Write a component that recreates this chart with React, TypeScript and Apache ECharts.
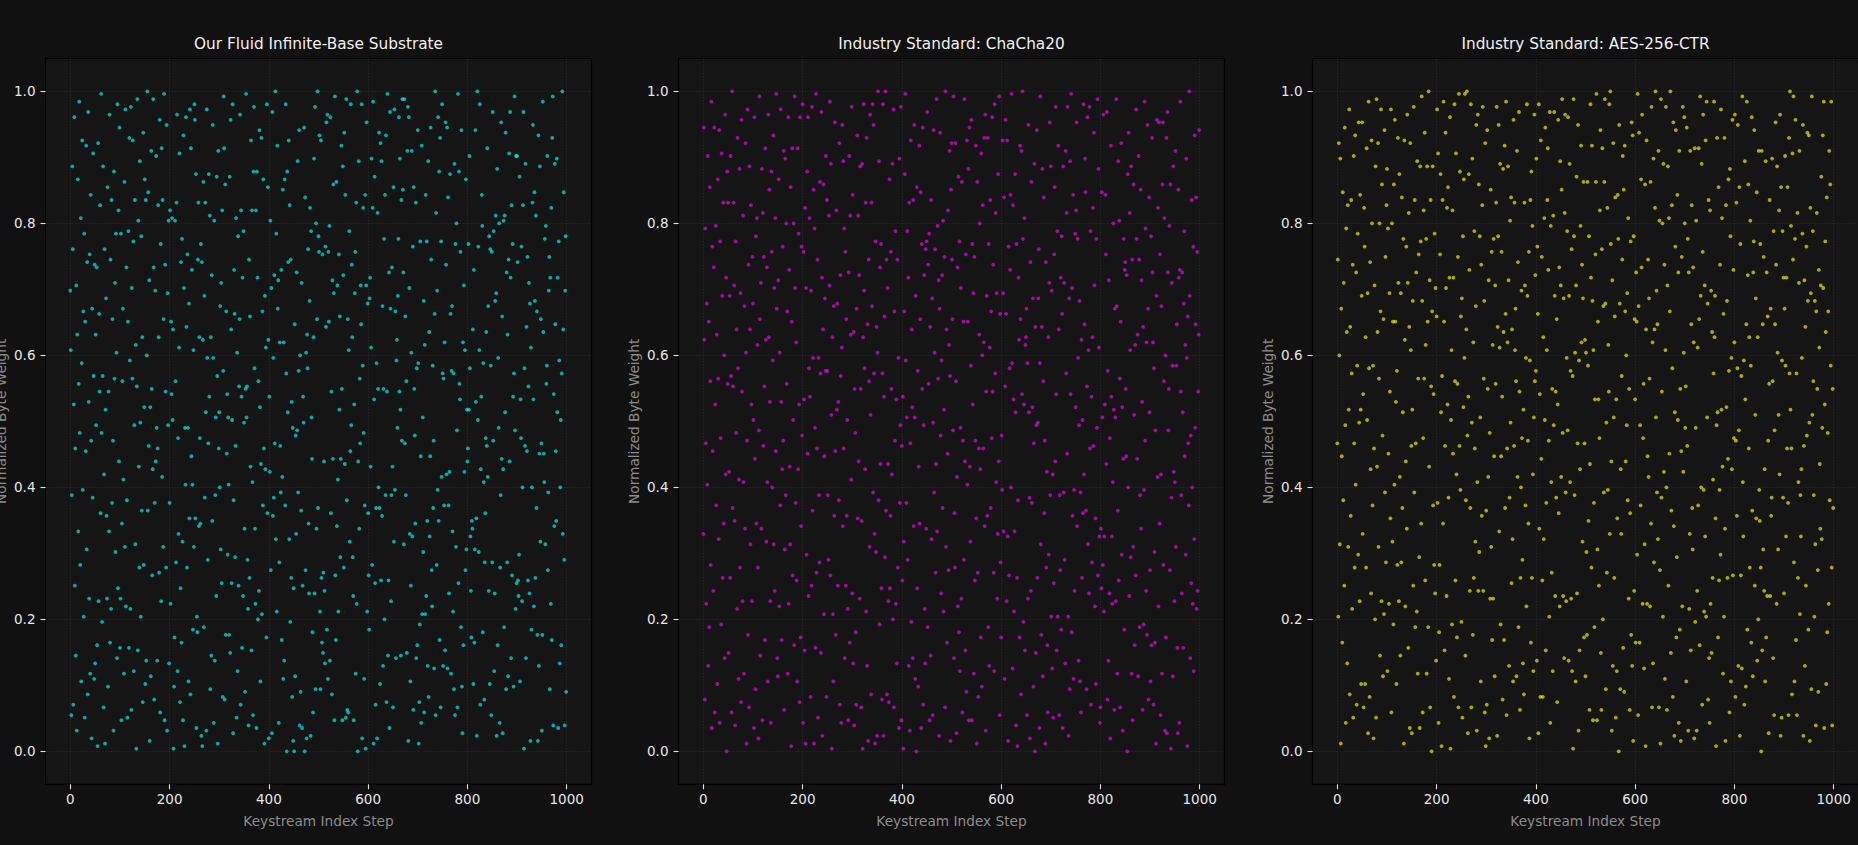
import React, { useEffect, useRef } from "react";
import * as echarts from "echarts";

const panelTitles = [
  "Our Fluid Infinite-Base Substrate",
  "Industry Standard: ChaCha20",
  "Industry Standard: AES-256-CTR",
];
const panelColors = ["rgba(0,255,255,0.8)", "rgba(255,0,255,0.8)", "rgba(255,255,0,0.8)"];
const xTickValues = [0, 200, 400, 600, 800, 1000];
const yTickValues = [0, 0.2, 0.4, 0.6, 0.8, 1.0];
const xAxisTitle = "Keystream Index Step";
const yAxisTitle = "Normalized Byte Weight";

// raw byte values (0-255) per keystream index
const fluidBytes = [
  178, 155, 14, 99, 226, 194, 18, 134, 245, 64, 117, 37, 180, 8, 161, 221, 85, 142, 251, 123, 72, 206, 27, 150, 236, 101, 170, 52, 200, 13, 166, 116, 234, 78, 189, 22, 247, 135, 59, 192, 30, 215, 120, 5, 171, 98, 231, 145, 28, 188,
  34, 161, 126, 187, 41, 2, 235, 58, 169, 139, 211, 92, 254, 123, 50, 145, 226, 17, 107, 194, 3, 132, 175, 91, 59, 218, 25, 139, 85, 246, 42, 190, 55, 213, 96, 167, 120, 8, 224, 144, 181, 77, 200, 154, 36, 250, 63, 209, 112, 241,
  40, 59, 200, 12, 88, 143, 171, 105, 30, 220, 79, 248, 56, 187, 97, 13, 166, 201, 40, 237, 151, 55, 249, 16, 179, 144, 236, 197, 31, 126, 213, 80, 157, 1, 141, 252, 39, 205, 110, 71, 228, 127, 52, 199, 93, 160, 19, 239, 72, 133,
  221, 26, 213, 35, 153, 255, 93, 216, 118, 182, 4, 133, 29, 232, 140, 68, 109, 252, 187, 20, 96, 178, 112, 230, 125, 35, 117, 211, 160, 69, 244, 15, 196, 58, 233, 106, 213, 79, 167, 254, 12, 188, 139, 71, 242, 8, 177, 126, 205, 34,
  96, 209, 57, 166, 138, 206, 128, 163, 1, 25, 44, 205, 143, 73, 212, 246, 31, 121, 84, 156, 231, 19, 63, 189, 42, 198, 81, 12, 238, 179, 2, 125, 103, 245, 164, 71, 192, 125, 27, 173, 90, 248, 22, 233, 114, 186, 103, 47, 155, 79,
  250, 244, 90, 223, 9, 52, 46, 190, 212, 87, 160, 121, 88, 196, 6, 189, 2, 159, 220, 48, 176, 98, 212, 131, 8, 248, 152, 74, 119, 223, 137, 207, 24, 160, 37, 184, 89, 242, 152, 11, 205, 35, 99, 129, 60, 222, 145, 3, 232, 117,
  131, 102, 172, 78, 181, 65, 209, 21, 147, 253, 233, 20, 219, 45, 170, 115, 138, 76, 129, 103, 45, 222, 38, 244, 163, 65, 128, 250, 7, 97, 186, 169, 75, 118, 206, 13, 154, 31, 199, 64, 141, 167, 246, 18, 209, 137, 40, 183, 60, 201,
  127, 86, 23, 140, 254, 129, 141, 74, 55, 10, 190, 67, 168, 110, 236, 39, 209, 104, 14, 224, 249, 148, 86, 57, 209, 9, 224, 183, 51, 143, 62, 240, 133, 27, 111, 237, 53, 170, 95, 221, 117, 3, 176, 109, 156, 44, 250, 92, 218, 159,
  5, 137, 108, 205, 70, 179, 7, 247, 91, 152, 98, 184, 119, 255, 82, 200, 54, 234, 171, 182, 11, 73, 158, 118, 100, 186, 43, 106, 217, 28, 158, 35, 221, 95, 250, 146, 0, 224, 131, 189, 236, 82, 211, 50, 190, 67, 135, 21, 125, 4,
  63, 0, 165, 29, 122, 84, 185, 124, 228, 100, 147, 240, 10, 153, 23, 93, 181, 9, 64, 137, 127, 241, 0, 214, 70, 154, 5, 161, 148, 194, 88, 61, 174, 210, 6, 201, 129, 113, 46, 15, 160, 229, 61, 249, 24, 204, 86, 167, 255, 94,
  199, 193, 238, 54, 24, 236, 67, 42, 192, 38, 69, 112, 62, 34, 195, 164, 243, 47, 246, 28, 193, 166, 203, 35, 245, 92, 139, 22, 182, 113, 219, 177, 12, 253, 68, 43, 220, 87, 180, 105, 54, 192, 132, 168, 75, 113, 234, 140, 12, 226,
  184, 71, 239, 111, 215, 13, 252, 97, 16, 167, 15, 155, 201, 81, 116, 250, 126, 188, 160, 75, 60, 12, 134, 177, 193, 30, 212, 57, 255, 0, 112, 228, 86, 144, 119, 180, 165, 250, 5, 149, 210, 123, 28, 95, 215, 1, 180, 243, 54, 173,
  92, 68, 47, 175, 183, 110, 156, 229, 72, 210, 251, 3, 136, 222, 65, 18, 94, 150, 5, 208, 140, 102, 239, 94, 26, 235, 66, 228, 91, 172, 33, 140, 198, 51, 215, 99, 238, 19, 139, 254, 37, 66, 185, 9, 247, 171, 58, 99, 187, 110,
  17, 218, 81, 248, 101, 170, 36, 151, 159, 125, 176, 198, 245, 139, 229, 132, 37, 213, 120, 252, 217, 185, 80, 252, 119, 168, 99, 143, 38, 232, 249, 4, 245, 179, 84, 27, 64, 154, 232, 83, 195, 16, 218, 140, 122, 88, 212, 36, 148, 41,
  240, 150, 3, 19, 49, 197, 114, 11, 234, 53, 129, 77, 174, 15, 157, 53, 215, 60, 197, 89, 33, 228, 21, 162, 83, 114, 241, 190, 70, 56, 149, 94, 120, 32, 169, 255, 14, 208, 72, 178, 101, 245, 89, 224, 43, 237, 17, 197, 106, 250,
  146, 33, 144, 95, 158, 39, 243, 188, 107, 241, 32, 214, 95, 61, 108, 223, 169, 30, 147, 172, 85, 54, 146, 24, 227, 14, 196, 79, 204, 124, 17, 254, 65, 224, 142, 136, 193, 48, 240, 25, 7, 158, 41, 180, 108, 155, 70, 221, 78, 132,
  112, 117, 196, 132, 230, 148, 83, 62, 44, 89, 86, 163, 26, 186, 42, 78, 240, 135, 90, 6, 255, 128, 195, 77, 155, 250, 18, 109, 137, 215, 203, 46, 150, 104, 20, 73, 92, 121, 162, 118, 233, 106, 172, 62, 199, 26, 194, 149, 14, 193,
  73, 247, 120, 201, 31, 61, 174, 207, 177, 6, 225, 41, 152, 125, 204, 11, 71, 99, 243, 113, 168, 7, 109, 205, 48, 207, 131, 239, 24, 185, 73, 161, 29, 190, 231, 112, 247, 183, 36, 211, 68, 196, 137, 25, 146, 253, 124, 55, 230, 65,
  230, 189, 66, 60, 76, 222, 27, 136, 121, 195, 58, 102, 211, 247, 1, 148, 118, 227, 36, 164, 116, 191, 66, 141, 181, 61, 173, 4, 156, 47, 102, 212, 242, 136, 56, 216, 174, 67, 207, 94, 170, 45, 4, 238, 33, 115, 226, 81, 167, 119,
  8, 45, 251, 162, 115, 104, 198, 80, 203, 142, 149, 230, 70, 100, 178, 191, 24, 183, 57, 210, 43, 237, 253, 10, 138, 87, 227, 165, 116, 89, 229, 131, 183, 9, 197, 151, 34, 102, 128, 41, 146, 255, 84, 163, 216, 74, 10, 178, 199, 23,
];

const chachaBytes = [
  84, 241, 159, 20, 202, 119, 57, 173, 103, 230, 33, 166, 48, 218, 143, 72, 251, 9, 195, 116, 62, 187, 241, 15, 134, 203, 95, 161, 26, 221, 144, 82, 240, 11, 197, 121, 49, 231, 176, 67, 212, 88, 153, 36, 246, 107, 183, 0, 224, 142,
  212, 38, 108, 176, 67, 230, 145, 15, 255, 94, 141, 212, 180, 89, 10, 197, 123, 163, 55, 237, 148, 28, 105, 225, 71, 177, 19, 244, 139, 58, 207, 104, 30, 172, 86, 235, 154, 3, 120, 248, 45, 188, 17, 226, 163, 80, 211, 134, 58, 191,
  173, 128, 9, 245, 113, 24, 199, 88, 206, 157, 71, 5, 124, 253, 167, 37, 181, 86, 225, 12, 208, 118, 191, 141, 43, 233, 159, 81, 187, 104, 27, 246, 160, 217, 135, 58, 11, 224, 193, 102, 151, 238, 80, 179, 62, 206, 116, 254, 171, 36,
  29, 182, 221, 56, 154, 95, 248, 135, 43, 109, 195, 120, 232, 16, 78, 229, 99, 204, 142, 170, 30, 245, 57, 186, 110, 80, 218, 2, 166, 233, 68, 128, 204, 41, 253, 179, 96, 158, 66, 27, 233, 109, 200, 134, 19, 245, 44, 87, 195, 122,
  250, 11, 193, 136, 39, 210, 3, 179, 76, 224, 115, 245, 60, 148, 206, 137, 21, 178, 64, 249, 93, 152, 217, 3, 202, 125, 40, 254, 69, 117, 190, 13, 152, 99, 73, 220, 146, 38, 247, 183, 6, 163, 219, 53, 114, 175, 147, 230, 21, 213,
  147, 99, 74, 207, 180, 251, 68, 227, 130, 1, 160, 53, 27, 172, 91, 243, 116, 45, 209, 132, 173, 64, 135, 97, 235, 18, 184, 145, 11, 156, 242, 87, 228, 117, 202, 36, 193, 64, 167, 91, 128, 55, 12, 185, 230, 42, 207, 161, 105, 249,
  61, 215, 34, 162, 10, 140, 123, 46, 18, 171, 238, 90, 207, 112, 184, 59, 226, 140, 17, 89, 227, 1, 160, 250, 178, 148, 109, 212, 54, 237, 33, 165, 4, 190, 143, 79, 246, 130, 22, 212, 172, 250, 100, 242, 146, 84, 3, 197, 77, 164,
  6, 154, 255, 97, 228, 49, 187, 111, 196, 63, 20, 146, 250, 6, 137, 168, 75, 255, 93, 190, 22, 179, 111, 58, 19, 221, 63, 91, 193, 140, 107, 227, 51, 248, 17, 170, 120, 201, 57, 136, 34, 190, 71, 152, 9, 229, 96, 126, 249, 12,
  118, 66, 137, 1, 81, 170, 223, 254, 151, 96, 129, 201, 74, 183, 33, 212, 8, 119, 236, 50, 163, 133, 36, 213, 87, 242, 129, 28, 176, 0, 218, 63, 147, 25, 110, 234, 88, 167, 216, 9, 196, 140, 241, 18, 126, 184, 55, 34, 194, 86,
  197, 247, 48, 188, 142, 200, 12, 164, 37, 213, 82, 175, 14, 127, 240, 100, 154, 194, 69, 111, 252, 85, 203, 144, 182, 6, 171, 239, 122, 61, 151, 184, 94, 205, 54, 132, 191, 17, 255, 79, 163, 42, 115, 209, 70, 157, 232, 145, 4, 217,
  235, 190, 167, 124, 253, 36, 92, 71, 235, 143, 7, 106, 187, 56, 222, 46, 197, 31, 125, 179, 59, 220, 15, 120, 166, 74, 252, 112, 39, 192, 23, 236, 103, 166, 225, 12, 241, 110, 81, 149, 244, 12, 196, 134, 177, 30, 191, 66, 120, 234,
  90, 3, 220, 69, 21, 117, 161, 204, 109, 44, 231, 25, 153, 211, 117, 158, 237, 87, 246, 8, 139, 176, 91, 237, 48, 196, 33, 156, 213, 94, 170, 121, 245, 139, 188, 69, 31, 250, 146, 208, 104, 177, 59, 84, 223, 112, 253, 14, 169, 73,
  44, 122, 101, 236, 177, 85, 214, 28, 141, 244, 169, 58, 236, 83, 4, 195, 68, 148, 186, 215, 102, 254, 150, 32, 211, 136, 54, 85, 223, 131, 10, 196, 67, 2, 97, 183, 159, 44, 234, 167, 22, 232, 138, 255, 198, 50, 134, 206, 39, 157,
  160, 171, 14, 150, 59, 242, 131, 98, 5, 189, 62, 220, 96, 133, 175, 25, 119, 227, 0, 164, 38, 126, 240, 67, 127, 175, 194, 9, 150, 253, 80, 45, 164, 225, 29, 143, 214, 92, 120, 3, 189, 71, 108, 41, 15, 160, 76, 181, 243, 99,
  226, 52, 178, 32, 107, 13, 65, 192, 218, 112, 249, 138, 39, 201, 52, 234, 163, 14, 99, 70, 183, 47, 199, 169, 9, 226, 100, 181, 74, 34, 232, 146, 208, 115, 249, 52, 6, 175, 24, 228, 138, 254, 46, 179, 91, 215, 28, 101, 62, 200,
  133, 209, 243, 87, 198, 152, 35, 126, 174, 27, 100, 15, 159, 67, 128, 92, 250, 107, 165, 229, 216, 93, 24, 141, 245, 80, 155, 61, 249, 117, 201, 18, 137, 73, 160, 210, 118, 239, 180, 56, 90, 26, 198, 125, 252, 68, 225, 156, 83, 11,
  17, 86, 63, 216, 129, 72, 246, 54, 83, 134, 215, 192, 111, 247, 20, 147, 35, 182, 61, 121, 5, 234, 137, 83, 57, 104, 204, 132, 16, 171, 129, 58, 252, 172, 30, 93, 228, 66, 205, 144, 17, 166, 235, 76, 133, 8, 113, 198, 47, 186,
  189, 140, 114, 184, 0, 223, 102, 239, 60, 208, 155, 75, 226, 30, 190, 12, 79, 219, 130, 41, 157, 68, 248, 198, 113, 161, 29, 230, 190, 48, 99, 217, 86, 182, 135, 16, 164, 49, 101, 251, 120, 202, 62, 158, 45, 242, 171, 20, 214, 131,
  70, 27, 199, 41, 237, 185, 158, 18, 148, 77, 42, 124, 3, 176, 244, 106, 210, 56, 243, 88, 192, 14, 107, 172, 30, 219, 243, 72, 143, 206, 8, 153, 44, 237, 7, 247, 185, 124, 140, 203, 70, 219, 1, 98, 181, 149, 29, 226, 108, 58,
  104, 232, 79, 149, 165, 40, 7, 217, 183, 11, 186, 251, 139, 99, 61, 185, 131, 40, 173, 201, 114, 157, 76, 229, 152, 2, 168, 119, 95, 255, 176, 36, 122, 65, 213, 102, 57, 195, 31, 82, 238, 125, 165, 214, 55, 193, 62, 139, 161, 240,
];

const aesBytes = [
  119, 190, 52, 235, 153, 80, 229, 3, 171, 114, 42, 216, 97, 181, 64, 241, 126, 11, 202, 162, 34, 211, 79, 132, 248, 22, 164, 91, 213, 146, 55, 188, 13, 230, 119, 71, 238, 103, 185, 18, 149, 200, 76, 243, 127, 58, 215, 132, 26, 176,
  243, 84, 138, 17, 210, 195, 26, 160, 71, 233, 128, 177, 7, 251, 148, 21, 189, 109, 61, 236, 204, 95, 149, 5, 117, 180, 51, 226, 13, 252, 110, 162, 235, 79, 144, 204, 37, 170, 248, 58, 219, 122, 29, 167, 53, 240, 100, 191, 73, 211,
  225, 31, 202, 115, 57, 177, 139, 90, 248, 15, 204, 81, 166, 49, 219, 103, 244, 166, 135, 26, 147, 72, 237, 181, 58, 223, 106, 37, 177, 73, 214, 94, 131, 198, 3, 236, 159, 56, 112, 195, 86, 246, 181, 40, 208, 164, 9, 235, 155, 118,
  7, 132, 174, 64, 249, 100, 213, 48, 119, 185, 54, 228, 30, 144, 192, 75, 9, 226, 197, 88, 253, 174, 15, 121, 209, 144, 239, 66, 157, 198, 30, 226, 166, 48, 255, 110, 182, 17, 213, 141, 0, 170, 226, 95, 138, 72, 200, 61, 179, 35,
  168, 248, 96, 231, 11, 46, 72, 192, 223, 131, 2, 145, 213, 88, 251, 166, 39, 118, 239, 179, 60, 210, 134, 218, 98, 28, 183, 245, 1, 128, 155, 49, 209, 115, 183, 21, 250, 143, 66, 231, 107, 44, 142, 191, 17, 254, 118, 224, 101, 168,
  50, 175, 13, 199, 133, 221, 152, 254, 37, 97, 163, 255, 122, 7, 137, 223, 186, 62, 94, 250, 17, 127, 229, 45, 158, 67, 201, 117, 81, 172, 242, 8, 104, 246, 62, 219, 77, 199, 129, 27, 188, 91, 211, 249, 62, 144, 174, 15, 235, 2,
  93, 18, 240, 140, 106, 182, 5, 123, 59, 217, 79, 193, 43, 157, 59, 198, 114, 29, 180, 142, 212, 249, 6, 164, 199, 242, 85, 156, 227, 49, 114, 193, 137, 20, 225, 162, 43, 234, 94, 169, 251, 14, 117, 158, 226, 182, 33, 98, 205, 127,
  214, 65, 163, 82, 27, 244, 118, 212, 155, 171, 143, 29, 232, 106, 189, 48, 247, 139, 16, 67, 102, 178, 121, 74, 34, 132, 22, 212, 180, 95, 152, 56, 250, 176, 120, 88, 193, 5, 151, 213, 42, 224, 67, 203, 107, 31, 129, 246, 143, 184,
  147, 229, 35, 195, 169, 7, 250, 86, 138, 21, 236, 113, 191, 66, 21, 160, 82, 206, 128, 241, 39, 96, 155, 213, 233, 186, 120, 52, 247, 11, 203, 104, 69, 140, 31, 207, 126, 247, 176, 60, 139, 98, 167, 19, 134, 244, 92, 187, 56, 228,
  180, 106, 217, 252, 123, 60, 175, 36, 208, 246, 100, 58, 152, 201, 124, 245, 35, 176, 227, 104, 147, 59, 194, 31, 145, 1, 252, 199, 99, 154, 27, 180, 222, 61, 119, 242, 8, 151, 39, 109, 203, 234, 158, 188, 81, 175, 220, 44, 119, 159,
  29, 154, 77, 45, 220, 149, 89, 199, 16, 111, 250, 183, 71, 234, 174, 12, 155, 96, 48, 136, 192, 220, 254, 12, 78, 166, 136, 64, 121, 209, 240, 38, 16, 194, 233, 51, 172, 100, 220, 252, 173, 24, 127, 69, 210, 101, 157, 139, 250, 84,
  255, 196, 112, 8, 182, 33, 235, 129, 67, 168, 214, 13, 136, 31, 90, 215, 198, 0, 242, 173, 24, 109, 84, 145, 190, 230, 40, 217, 23, 234, 170, 112, 153, 126, 177, 97, 206, 59, 140, 16, 92, 197, 45, 243, 33, 238, 4, 199, 62, 167,
  136, 42, 185, 166, 76, 254, 14, 172, 239, 42, 126, 95, 221, 187, 246, 57, 121, 142, 32, 80, 219, 2, 163, 236, 57, 114, 190, 106, 175, 144, 56, 220, 88, 249, 17, 158, 34, 229, 73, 163, 210, 255, 129, 178, 100, 165, 82, 232, 17, 205,
  70, 3, 252, 98, 139, 204, 52, 227, 108, 188, 28, 155, 249, 102, 16, 180, 226, 64, 206, 115, 170, 255, 38, 93, 211, 148, 21, 243, 87, 6, 131, 195, 240, 44, 75, 215, 128, 185, 11, 232, 47, 140, 4, 116, 191, 56, 249, 108, 154, 245,
  204, 125, 141, 27, 241, 118, 198, 8, 185, 55, 84, 232, 39, 165, 211, 94, 78, 187, 158, 5, 233, 50, 125, 205, 8, 62, 156, 95, 233, 167, 41, 253, 176, 102, 227, 18, 193, 246, 101, 54, 180, 83, 236, 52, 251, 129, 173, 20, 213, 36,
  11, 209, 57, 178, 38, 162, 67, 105, 146, 251, 160, 176, 90, 2, 126, 237, 131, 44, 218, 66, 101, 188, 76, 248, 132, 206, 110, 30, 169, 52, 237, 86, 4, 211, 133, 174, 67, 113, 221, 147, 15, 225, 199, 27, 152, 109, 244, 68, 186, 121,
  158, 246, 21, 120, 212, 91, 148, 242, 33, 124, 218, 6, 196, 68, 145, 32, 253, 104, 83, 151, 18, 228, 136, 25, 165, 251, 47, 184, 219, 117, 160, 71, 205, 149, 42, 245, 93, 29, 185, 197, 240, 64, 130, 175, 90, 216, 35, 160, 51, 232,
  101, 89, 196, 71, 0, 232, 39, 165, 78, 191, 62, 109, 27, 228, 44, 185, 60, 168, 120, 7, 142, 213, 60, 171, 91, 98, 229, 143, 36, 201, 14, 124, 165, 243, 188, 57, 226, 154, 78, 130, 209, 107, 246, 6, 218, 13, 151, 201, 98, 183,
  61, 171, 230, 149, 83, 183, 117, 218, 96, 14, 237, 146, 255, 132, 203, 117, 22, 231, 190, 253, 73, 27, 198, 244, 43, 146, 14, 208, 67, 104, 181, 232, 53, 99, 83, 109, 152, 200, 242, 6, 118, 182, 33, 164, 64, 195, 122, 239, 174, 47,
  238, 127, 4, 210, 177, 24, 253, 130, 201, 143, 99, 52, 174, 80, 10, 170, 208, 140, 70, 23, 186, 156, 111, 86, 180, 222, 82, 125, 238, 179, 251, 9, 134, 197, 162, 26, 214, 46, 123, 170, 57, 232, 97, 219, 149, 251, 71, 10, 140, 94,
];

const panelBytes = [fluidBytes, chachaBytes, aesBytes];

const FONT = "DejaVu Sans";
const PANEL_LEFT = [45.5, 678.5, 1312.5];
const PANEL_W = 546;
const PANEL_TOP = 58.3;
const PANEL_H = 726;

export default function App() {
  const ref = useRef<HTMLDivElement>(null);

  useEffect(() => {
    if (!ref.current) return;
    const chart = echarts.init(ref.current, undefined, { renderer: "svg" });

    const grids = PANEL_LEFT.map((left) => ({
      left,
      top: PANEL_TOP,
      width: PANEL_W,
      height: PANEL_H,
      show: true,
      backgroundColor: "#151515",
      borderColor: "#000000",
      borderWidth: 1.2,
      containLabel: false,
      outerBoundsMode: "none",
    }));

    const xAxes = PANEL_LEFT.map((_, i) => ({
      type: "value",
      gridIndex: i,
      min: -50,
      max: 1050,
      axisLine: { show: false, onZero: false },
      axisTick: {
        show: true,
        inside: false,
        length: 5,
        lineStyle: { color: "#e0e0e0", width: 1.1 },
        customValues: xTickValues,
      },
      axisLabel: {
        customValues: xTickValues,
        color: "#e6e6e6",
        fontSize: 13.5,
        fontFamily: FONT,
        margin: 8,
        formatter: (v: number) => String(v),
      },
      splitLine: { show: true, lineStyle: { color: "#333333", width: 0.8, type: [1, 2] } },
      name: xAxisTitle,
      nameLocation: "middle",
      nameGap: 30,
      nameTextStyle: { color: "#8c8c8c", fontSize: 13.7, fontFamily: FONT },
    }));

    const yAxes = PANEL_LEFT.map((_, i) => ({
      type: "value",
      gridIndex: i,
      min: -0.05,
      max: 1.05,
      axisLine: { show: false, onZero: false },
      axisTick: {
        show: true,
        inside: false,
        length: 5,
        lineStyle: { color: "#e0e0e0", width: 1.1 },
        customValues: yTickValues,
      },
      axisLabel: {
        customValues: yTickValues,
        color: "#e6e6e6",
        fontSize: 13.5,
        fontFamily: FONT,
        margin: 10,
        formatter: (v: number) => v.toFixed(1),
      },
      splitLine: { show: true, lineStyle: { color: "#333333", width: 0.8, type: [1, 2] } },
      name: yAxisTitle,
      nameLocation: "middle",
      nameGap: 38,
      nameTextStyle: { color: "#8c8c8c", fontSize: 13.7, fontFamily: FONT },
    }));

    const series = panelBytes.map((bytes, i) => ({
      type: "scatter",
      xAxisIndex: i,
      yAxisIndex: i,
      symbol: "circle",
      symbolSize: 3.8,
      silent: true,
      itemStyle: { color: panelColors[i] },
      data: bytes.map((b, idx) => [idx, b / 255]),
    }));

    const graphic = panelTitles.map((t, i) => ({
      type: "text",
      x: PANEL_LEFT[i] + PANEL_W / 2,
      y: 44,
      style: {
        text: t,
        fill: "#f0f0f0",
        font: `15.3px "${FONT}"`,
        align: "center",
        verticalAlign: "middle",
      },
    }));

    chart.setOption({
      animation: false,
      backgroundColor: "#111111",
      grid: grids,
      xAxis: xAxes,
      yAxis: yAxes,
      series,
      graphic,
    });

    return () => chart.dispose();
  }, []);

  return (
    <div
      ref={ref}
      style={{ position: "fixed", left: 0, top: 0, width: 1858, height: 845 }}
    />
  );
}
